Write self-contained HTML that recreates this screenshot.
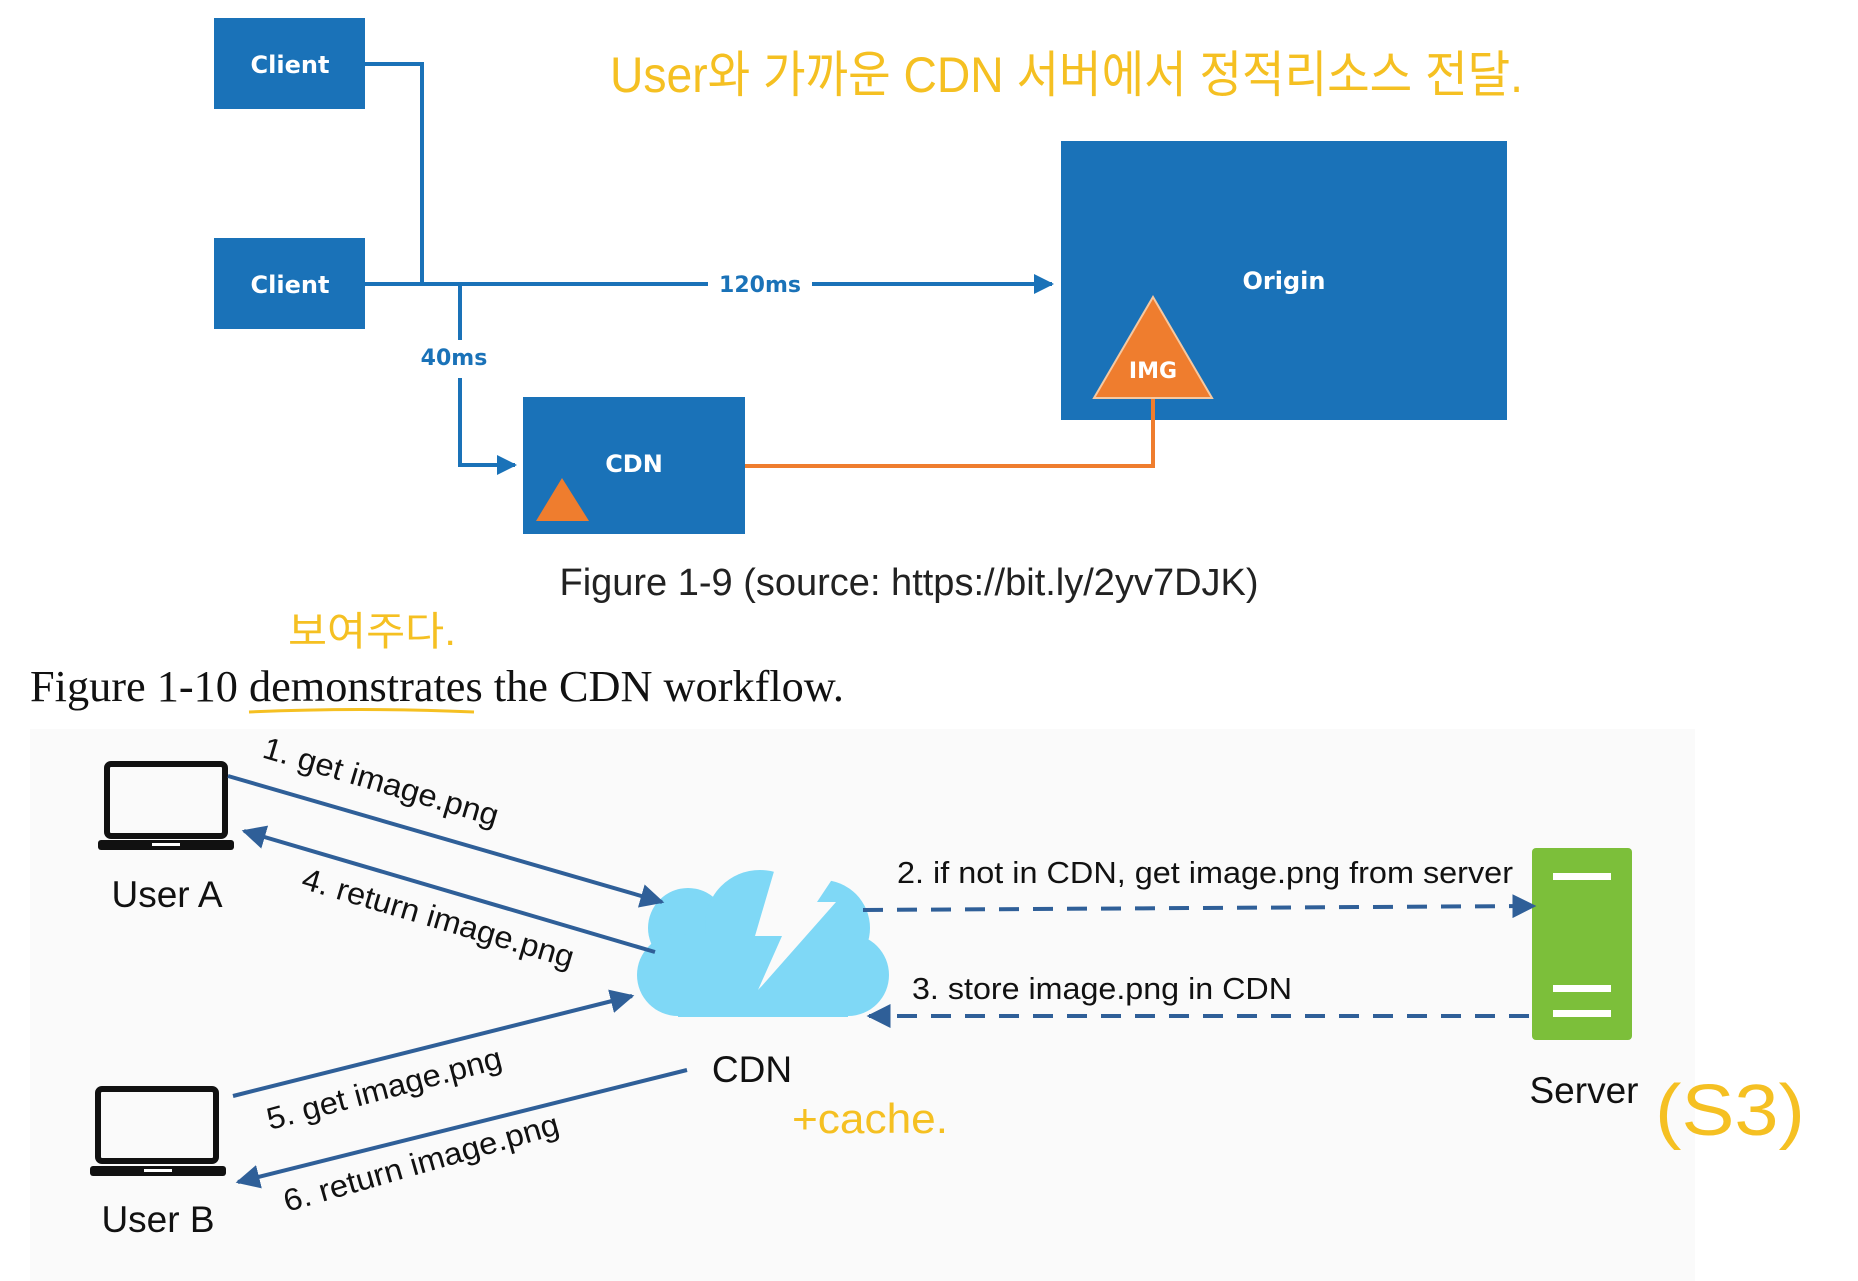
<!DOCTYPE html>
<html><head><meta charset="utf-8"><style>
html,body{margin:0;padding:0;background:#fff;}
svg{display:block;}
</style></head><body>
<svg width="1858" height="1281" viewBox="0 0 1858 1281" xmlns="http://www.w3.org/2000/svg">
<defs>
<marker id="ab" viewBox="0 0 10 10" refX="9" refY="5" markerWidth="5" markerHeight="5" orient="auto-start-reverse" markerUnits="strokeWidth"><path d="M0,0 L10,5 L0,10 z" fill="#1a72b8"/></marker>
<marker id="ad" viewBox="0 0 10 10" refX="9" refY="5" markerWidth="6" markerHeight="6" orient="auto" markerUnits="strokeWidth"><path d="M0,0 L10,5 L0,10 z" fill="#2f5f98"/></marker>
</defs>
<rect x="214" y="18" width="151" height="91" fill="#1a72b8"/>
<rect x="214" y="238" width="151" height="91" fill="#1a72b8"/>
<rect x="1061" y="141" width="446" height="279" fill="#1a72b8"/>
<rect x="523" y="397" width="222" height="137" fill="#1a72b8"/>
<g font-family="'DejaVu Sans',sans-serif" font-weight="bold" fill="#fff" font-size="24" text-anchor="middle">
<text x="290" y="73">Client</text>
<text x="290" y="293">Client</text>
<text x="1284" y="289">Origin</text>
<text x="634" y="472">CDN</text>
</g>
<g stroke="#1a72b8" stroke-width="4" fill="none">
<polyline points="365,64 422,64 422,284"/>
<line x1="365" y1="284" x2="708" y2="284"/>
<line x1="812" y1="284" x2="1052" y2="284" marker-end="url(#ab)"/>
<polyline points="460,284 460,340"/>
<polyline points="460,378 460,465 515,465" marker-end="url(#ab)"/>
</g>
<text x="760" y="292" font-family="'DejaVu Sans',sans-serif" font-weight="bold" fill="#1a72b8" font-size="22" text-anchor="middle">120ms</text>
<text x="454" y="365" font-family="'DejaVu Sans',sans-serif" font-weight="bold" fill="#1a72b8" font-size="22" text-anchor="middle">40ms</text>
<polyline points="745,466 1153,466 1153,398" stroke="#ef7d2e" stroke-width="4" fill="none"/>
<polygon points="1153,297 1094,398 1212,398" fill="#ef7d2e" stroke="#f6c8a0" stroke-width="2"/>
<text x="1153" y="378" font-family="'DejaVu Sans',sans-serif" font-weight="bold" fill="#fff" font-size="22" text-anchor="middle">IMG</text>
<polygon points="562,478 536,521 589,521" fill="#ef7d2e"/>
<text x="909" y="595" font-family="'Liberation Sans',sans-serif" font-size="38" fill="#222" text-anchor="middle">Figure 1-9 (source: https://bit.ly/2yv7DJK)</text>
<text x="610" y="92" font-family="'Liberation Sans','Noto Sans CJK KR',sans-serif" font-size="50" fill="#f5c022" textLength="913" lengthAdjust="spacingAndGlyphs">User와 가까운 CDN 서버에서 정적리소스 전달.</text>
<text x="288" y="645" font-family="'Liberation Sans','Noto Sans CJK KR',sans-serif" font-size="40" fill="#f5c022" textLength="168" lengthAdjust="spacingAndGlyphs">보여주다.</text>
<text x="30" y="701" font-family="'Liberation Serif',serif" font-size="44" fill="#111" textLength="814" lengthAdjust="spacingAndGlyphs">Figure 1-10 demonstrates the CDN workflow.</text>
<path d="M249,712 Q360,707 474,712" stroke="#f5c022" stroke-width="3" fill="none"/>
<rect x="30" y="729" width="1665" height="552" fill="#fafafa"/>
<g fill="none" stroke="#111" stroke-width="6">
<rect x="107" y="764" width="118" height="72" rx="4"/>
<rect x="98" y="1089" width="118" height="72" rx="4"/>
</g>
<rect x="98" y="840" width="136" height="10" rx="3" fill="#111"/>
<rect x="152" y="843" width="28" height="3" fill="#fff"/>
<rect x="90" y="1166" width="136" height="10" rx="3" fill="#111"/>
<rect x="144" y="1169" width="28" height="3" fill="#fff"/>
<g font-family="'Liberation Sans',sans-serif" font-size="37" fill="#111" text-anchor="middle">
<text x="167" y="907">User A</text>
<text x="158" y="1232">User B</text>
<text x="752" y="1082">CDN</text>
<text x="1584" y="1103">Server</text>
</g>
<g fill="#7fd8f6">
<circle cx="688" cy="928" r="40"/>
<circle cx="760" cy="925" r="55"/>
<circle cx="822" cy="928" r="48"/>
<circle cx="678" cy="975" r="41"/>
<circle cx="848" cy="975" r="41"/>
<rect x="678" y="940" width="170" height="77"/>
</g>
<polygon points="775,868 755,936 782,936 758,990 833,905 815,905 835,875 800,870" fill="#fafafa"/>
<polygon points="790,874 767,934 793,934 760,988 836,902 812,902 835,873 830,873" fill="#fafafa"/>
<rect x="1532" y="848" width="100" height="192" rx="4" fill="#7cbf3a"/>
<g fill="#fff"><rect x="1553" y="873" width="58" height="7"/><rect x="1553" y="985" width="58" height="7"/><rect x="1553" y="1010" width="58" height="7"/></g>
<g stroke="#2f5f98" stroke-width="4" fill="none">
<line x1="228" y1="776" x2="662" y2="902" marker-end="url(#ad)"/>
<line x1="655" y1="952" x2="244" y2="831" marker-end="url(#ad)"/>
<line x1="233" y1="1096" x2="632" y2="996" marker-end="url(#ad)"/>
<line x1="687" y1="1070" x2="238" y2="1182" marker-end="url(#ad)"/>
<line x1="863" y1="910" x2="1534" y2="906" stroke-dasharray="20,14" marker-end="url(#ad)"/>
<line x1="1529" y1="1016" x2="869" y2="1016" stroke-dasharray="20,14" marker-end="url(#ad)"/>
</g>
<g font-family="'Liberation Sans',sans-serif" font-size="31" fill="#111">
<text transform="translate(261,757) rotate(16.5)" textLength="244" lengthAdjust="spacingAndGlyphs">1. get image.png</text>
<text transform="translate(300,888) rotate(16.5)" textLength="282" lengthAdjust="spacingAndGlyphs">4. return image.png</text>
<text transform="translate(270,1130) rotate(-15)" textLength="242" lengthAdjust="spacingAndGlyphs">5. get image.png</text>
<text transform="translate(287,1212) rotate(-16)" textLength="285" lengthAdjust="spacingAndGlyphs">6. return image.png</text>
<text x="897" y="883" textLength="616" lengthAdjust="spacingAndGlyphs">2. if not in CDN, get image.png from server</text>
<text x="912" y="999" textLength="380" lengthAdjust="spacingAndGlyphs">3. store image.png in CDN</text>
</g>
<text x="792" y="1133" font-family="'Liberation Sans',sans-serif" font-size="42" fill="#f5c022" textLength="156" lengthAdjust="spacingAndGlyphs">+cache.</text>
<text x="1655" y="1135" font-family="'Liberation Sans',sans-serif" font-size="72" fill="#f5c022" textLength="150" lengthAdjust="spacingAndGlyphs">(S3)</text>
</svg>
</body></html>
